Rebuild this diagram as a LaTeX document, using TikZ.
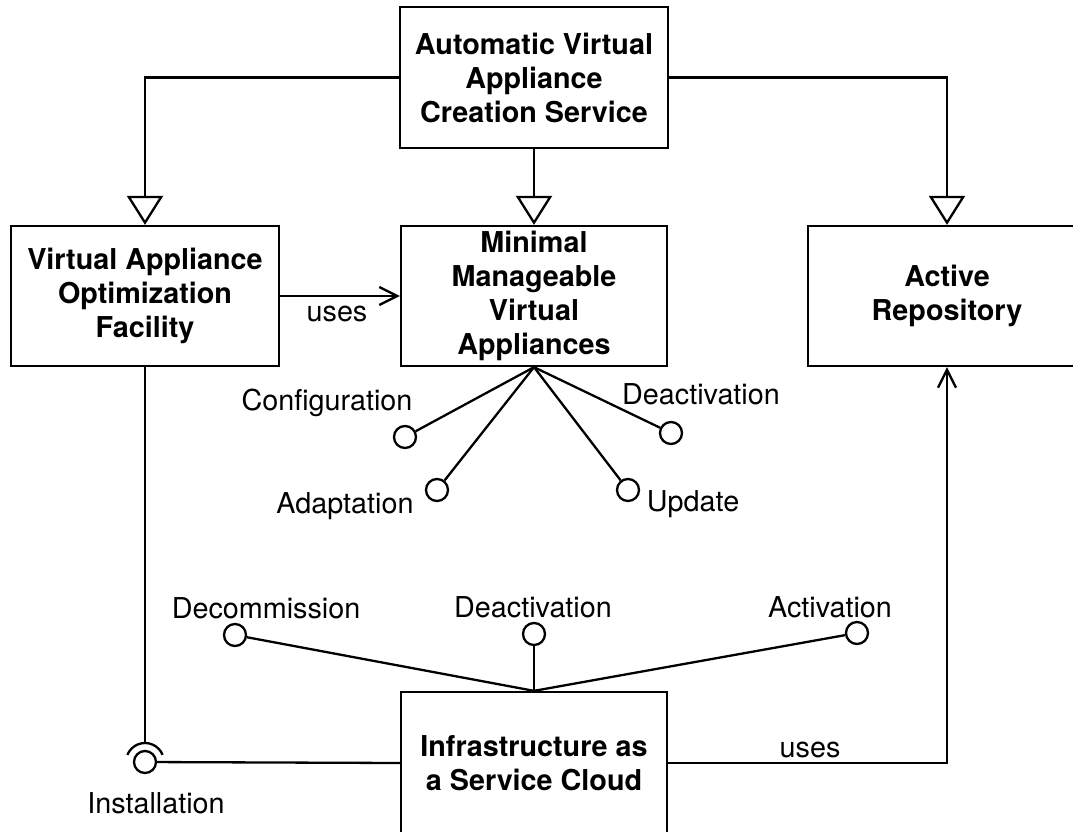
\documentclass[tikz,border=0pt]{standalone}
\usepackage{fontspec}
\setmainfont{TeX Gyre Heros}
\usetikzlibrary{arrows.meta}
\begin{document}
\begin{tikzpicture}[x=1pt,y=-1pt,
  every node/.style={font=\fontsize{28.75}{34}\selectfont},
  box/.style={draw, line width=2.3pt, rectangle, align=center, inner sep=0pt,
    font=\fontsize{28.75}{34}\selectfont\bfseries},
  lolli/.style={draw, line width=2.3pt, circle, minimum size=22pt, inner sep=0pt, fill=white},
  lbl/.style={inner sep=0pt, anchor=base},
  ln/.style={line width=2.3pt},
  gen/.style={ln, -{Triangle[open, length=29pt, width=36pt, line width=2.3pt]}},
  usearrow/.style={ln, -{Straight Barb[length=18pt, width=18pt, line width=2.3pt]}},
]
\useasboundingbox (0,0) rectangle (1073,832);
\clip (0,0) rectangle (1073,832);

% boxes
\node[box, minimum width=268pt, minimum height=141pt] (top) at (534,77.5)
  {Automatic Virtual\\Appliance\\Creation Service};
\node[box, minimum width=268pt, minimum height=140pt] (vaof) at (145,296)
  {Virtual Appliance\\Optimization\\Facility};
\node[box, minimum width=266pt, minimum height=140pt] (mmva) at (534,296)
  {Minimal\\Manageable\\Virtual\\Appliances};
\node[box, minimum width=278pt, minimum height=140pt] (ar) at (947,296)
  {Active\\Repository};
\node[box, minimum width=266pt, minimum height=142pt] (iaas) at (534,763)
  {Infrastructure as\\a Service Cloud};

% generalisation connectors
\draw[gen] (top.west) -| (vaof.north);
\draw[gen] (top.south) -- (mmva.north);
\draw[gen] (top.east) -| (ar.north);

% uses connectors
\draw[usearrow] (vaof.east) -- (mmva.west)
  node[lbl, midway, yshift=-25pt, xshift=-3pt] (uses1) {uses};
\draw[usearrow] (iaas.east) -| (ar.south)
  node[lbl, pos=0.25, yshift=6pt, xshift=2.5pt] (uses2) {uses};

% MMVA interfaces
\node[lolli] (cfg) at (405,437) {};
\node[lolli] (adp) at (437,490) {};
\node[lolli] (upd) at (628,490) {};
\node[lolli] (dea1) at (671,433) {};
\draw[ln] (mmva.south) -- (cfg);
\draw[ln] (mmva.south) -- (adp);
\draw[ln] (mmva.south) -- (upd);
\draw[ln] (mmva.south) -- (dea1);
\node[lbl] (cfgl) at (327,410) {Configuration};
\node[lbl] (adpl) at (345,513) {Adaptation};
\node[lbl] (updl) at (693,511) {Update};
\node[lbl] (dea1l) at (701,404) {Deactivation};

% IaaS interfaces
\node[lolli] (dec) at (235,635) {};
\node[lolli] (dea2) at (534,634) {};
\node[lolli] (act) at (857,633) {};
\draw[ln] (iaas.north) -- (dec);
\draw[ln] (iaas.north) -- (dea2);
\draw[ln] (iaas.north) -- (act);
\node[lbl] (decl) at (266,618) {Decommission};
\node[lbl] (dea2l) at (533,617) {Deactivation};
\node[lbl] (actl) at (830,617) {Activation};

% Installation socket / ball
\node[lolli] (inst) at (145,762) {};
\coordinate (sock) at (145,743);
\draw[ln] (vaof.south) -- (sock);
\draw[ln] (inst.center) ++(22:19pt) arc[start angle=22, end angle=158, radius=19pt];
\draw[ln] (inst) -- (iaas.west);
\node[lbl] (instl) at (156,813) {Installation};
\end{tikzpicture}
\end{document}
